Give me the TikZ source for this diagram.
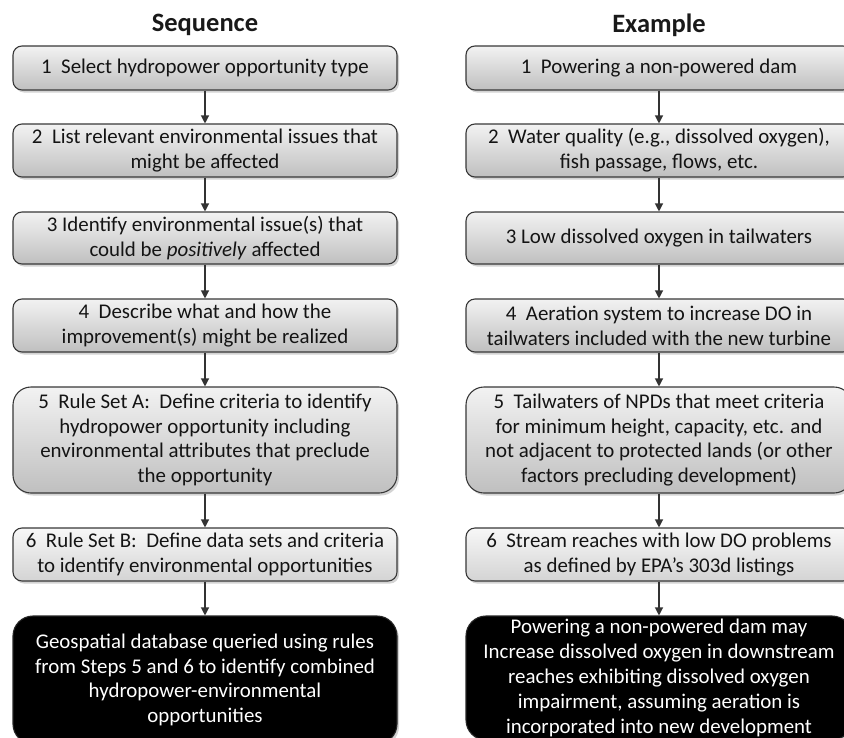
\documentclass[tikz,border=0pt]{standalone}
\usepackage{fontspec}
\setmainfont{Carlito}
\usetikzlibrary{arrows.meta,shadows}

\tikzset{
  stepbox/.style={draw=black!78, line width=1.1pt, rounded corners=9pt,
    top color=black!5, bottom color=black!25, text=black!92, align=center,
    inner sep=0pt, font=\fontsize{20.9}{24.8}\selectfont,
    drop shadow={shadow xshift=2pt,shadow yshift=-2.5pt,opacity=0.35}},
  lightbox/.style={stepbox, top color=black!3, bottom color=black!17},
  resultbox/.style={draw=black!85, line width=1.1pt, rounded corners=20pt,
    fill=black, text=white, align=center, inner sep=0pt,
    font=\fontsize{20.9}{24.8}\selectfont,
    drop shadow={shadow xshift=2pt,shadow yshift=-2.5pt,opacity=0.35}},
  headtext/.style={font=\fontsize{26.5}{30}\selectfont\bfseries, text=black!90},
  flowarrow/.style={draw=black!80, line width=1.2pt, -{Triangle[length=8pt,width=8pt]}}
}

\begin{document}
\begin{tikzpicture}[x=1pt,y=1pt,yscale=-1,xscale=1]
\path[use as bounding box] (0,0) rectangle (844,737);
\clip (0,0) rectangle (844,737);

% Text Node
\node[headtext] (seqhead) at (205,25) {Sequence};
% Text Node
\node[headtext] (exhead) at (659,25) {Example};

%Sequence column
\node[stepbox, minimum width=384pt, minimum height=44pt] (s1) at (205,68)
  {1\ \ Select hydropower opportunity type};
\node[stepbox, minimum width=384pt, minimum height=53pt] (s2) at (205,150.5)
  {2\ \ List relevant environmental issues that\\might be affected};
\node[stepbox, minimum width=384pt, minimum height=52pt] (s3) at (205,238)
  {3 Identify environmental issue(s) that\\could be \textit{positively} affected};
\node[stepbox, minimum width=384pt, minimum height=53pt] (s4) at (205,325.5)
  {4\ \ Describe what and how the\\improvement(s) might be realized};
\node[stepbox, rounded corners=18pt, minimum width=384pt, minimum height=106pt] (s5) at (205,440)
  {5\ \ Rule Set A:\ \ Define criteria to identify\\hydropower opportunity including\\environmental attributes that preclude\\the opportunity};
\node[lightbox, minimum width=384pt, minimum height=53pt] (s6) at (205,554.5)
  {6\ \ Rule Set B:\ \ Define data sets and criteria\\to identify environmental opportunities};
\node[resultbox, minimum width=384pt, minimum height=128pt] (s7) at (205,680)
  {Geospatial database queried using rules\\from Steps 5 and 6 to identify combined\\hydropower-environmental\\opportunities};

%Example column
\node[stepbox, minimum width=386pt, minimum height=44pt] (e1) at (659,68)
  {1\ \ Powering a non-powered dam};
\node[stepbox, minimum width=386pt, minimum height=53pt] (e2) at (659,150.5)
  {2\ \ Water quality (e.g., dissolved oxygen),\\fish passage, flows, etc.};
\node[stepbox, minimum width=386pt, minimum height=52pt] (e3) at (659,238)
  {3 Low dissolved oxygen in tailwaters};
\node[stepbox, minimum width=386pt, minimum height=53pt] (e4) at (659,325.5)
  {4\ \ Aeration system to increase DO in\\tailwaters included with the new turbine};
\node[stepbox, rounded corners=18pt, minimum width=386pt, minimum height=106pt] (e5) at (659,440)
  {5\ \ Tailwaters of NPDs that meet criteria\\for minimum height, capacity, etc. and\\not adjacent to protected lands (or other\\factors precluding development)};
\node[lightbox, minimum width=386pt, minimum height=53pt] (e6) at (659,554.5)
  {6\ \ Stream reaches with low DO problems\\as defined by EPA’s 303d listings};
\node[resultbox, minimum width=386pt, minimum height=124pt] (e7) at (659,678)
  {Powering a non-powered dam may\\Increase dissolved oxygen in downstream\\reaches exhibiting dissolved oxygen\\impairment, assuming aeration is\\incorporated into new development};

%Straight Lines
\foreach \a/\b in {s1/s2,s2/s3,s3/s4,s4/s5,s5/s6,s6/s7,e1/e2,e2/e3,e3/e4,e4/e5,e5/e6,e6/e7}
  \draw[flowarrow] (\a) -- (\b);

\end{tikzpicture}
\end{document}
